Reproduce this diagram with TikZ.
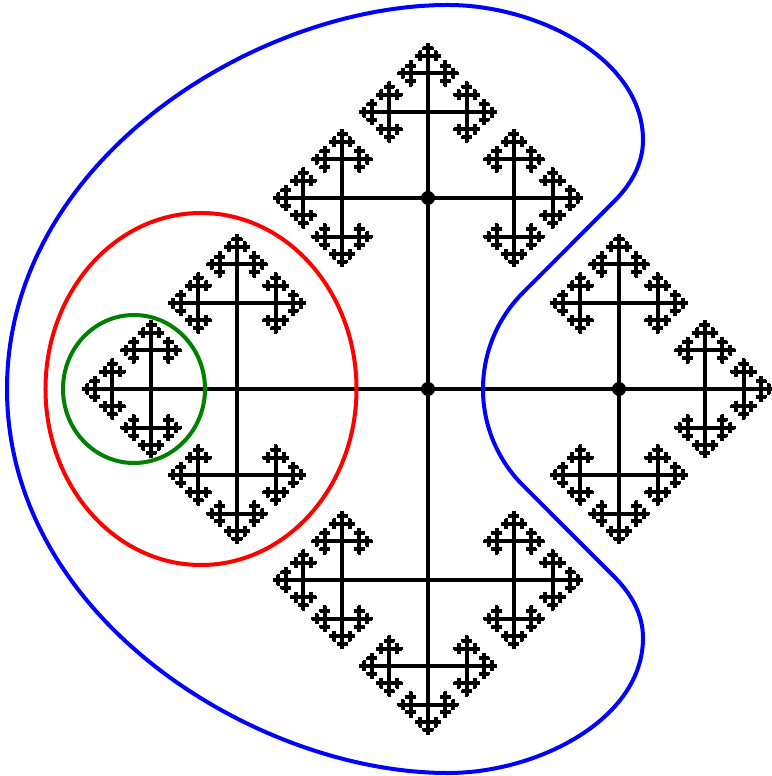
\documentclass[tikz,border=0pt]{standalone}
\usepackage{xcolor}
\usepackage{tikz}
\usetikzlibrary{shapes,arrows,positioning,calc}

\newcommand{\armratio}{0.45}
% one arm of the cross tree: x, y, angle, length, levels left
\newcommand{\crossarm}[5]{%
  \pgfmathsetmacro\armx{#1+#4*cos(#3)}%
  \pgfmathsetmacro\army{#2+#4*sin(#3)}%
  \draw[branch] (#1,#2) -- (\armx,\army);%
  \ifnum#5>0
    \pgfmathsetmacro\armlen{#4*\armratio}%
    \pgfmathtruncatemacro\armlev{#5-1}%
    \pgfmathsetmacro\armleft{#3+90}%
    \pgfmathsetmacro\armright{#3-90}%
    \edef\armnext{%
      \noexpand\crossarm{\armx}{\army}{#3}{\armlen}{\armlev}%
      \noexpand\crossarm{\armx}{\army}{\armleft}{\armlen}{\armlev}%
      \noexpand\crossarm{\armx}{\army}{\armright}{\armlen}{\armlev}}%
    \armnext
  \fi}

\begin{document}
\begin{tikzpicture}[
  x=0.02cm, y=0.02cm,
  branch/.style={line width=0.08cm, black},
  dot/.style={circle, fill=black, inner sep=0pt, minimum size=0.28cm},
  ring/.style={line width=0.08cm}
]
\useasboundingbox (-428,-387) rectangle (343,389);

% the tree
\foreach \a in {0,90,180,270}
  \crossarm{0}{0}{\a}{191}{6};

\node[dot] (hub)   at (0,0)   {};
\node[dot] (top)   at (0,191) {};
\node[dot] (right) at (191,0) {};

% rings
\draw[ring, green!50!black] (-294,0) ellipse [x radius=71, y radius=74];
\draw[ring, red] (-227,0) ellipse [x radius=155.5, y radius=176];
\draw[ring, blue] (55,0) arc[start angle=180, end angle=135, radius=136]
  -- (186,187.5) .. controls (203,204.5) and (215,225) .. (215,249)
  .. controls (215,330) and (110,384) .. (20,384)
  .. controls (-170,384) and (-421,230) .. (-421,0)
  .. controls (-421,-230) and (-170,-384) .. (20,-384)
  .. controls (110,-384) and (215,-330) .. (215,-249)
  .. controls (215,-225) and (203,-204.5) .. (186,-187.5)
  -- (94.8,-96.2) arc[start angle=225, end angle=180, radius=136] -- cycle;

\end{tikzpicture}
\end{document}
